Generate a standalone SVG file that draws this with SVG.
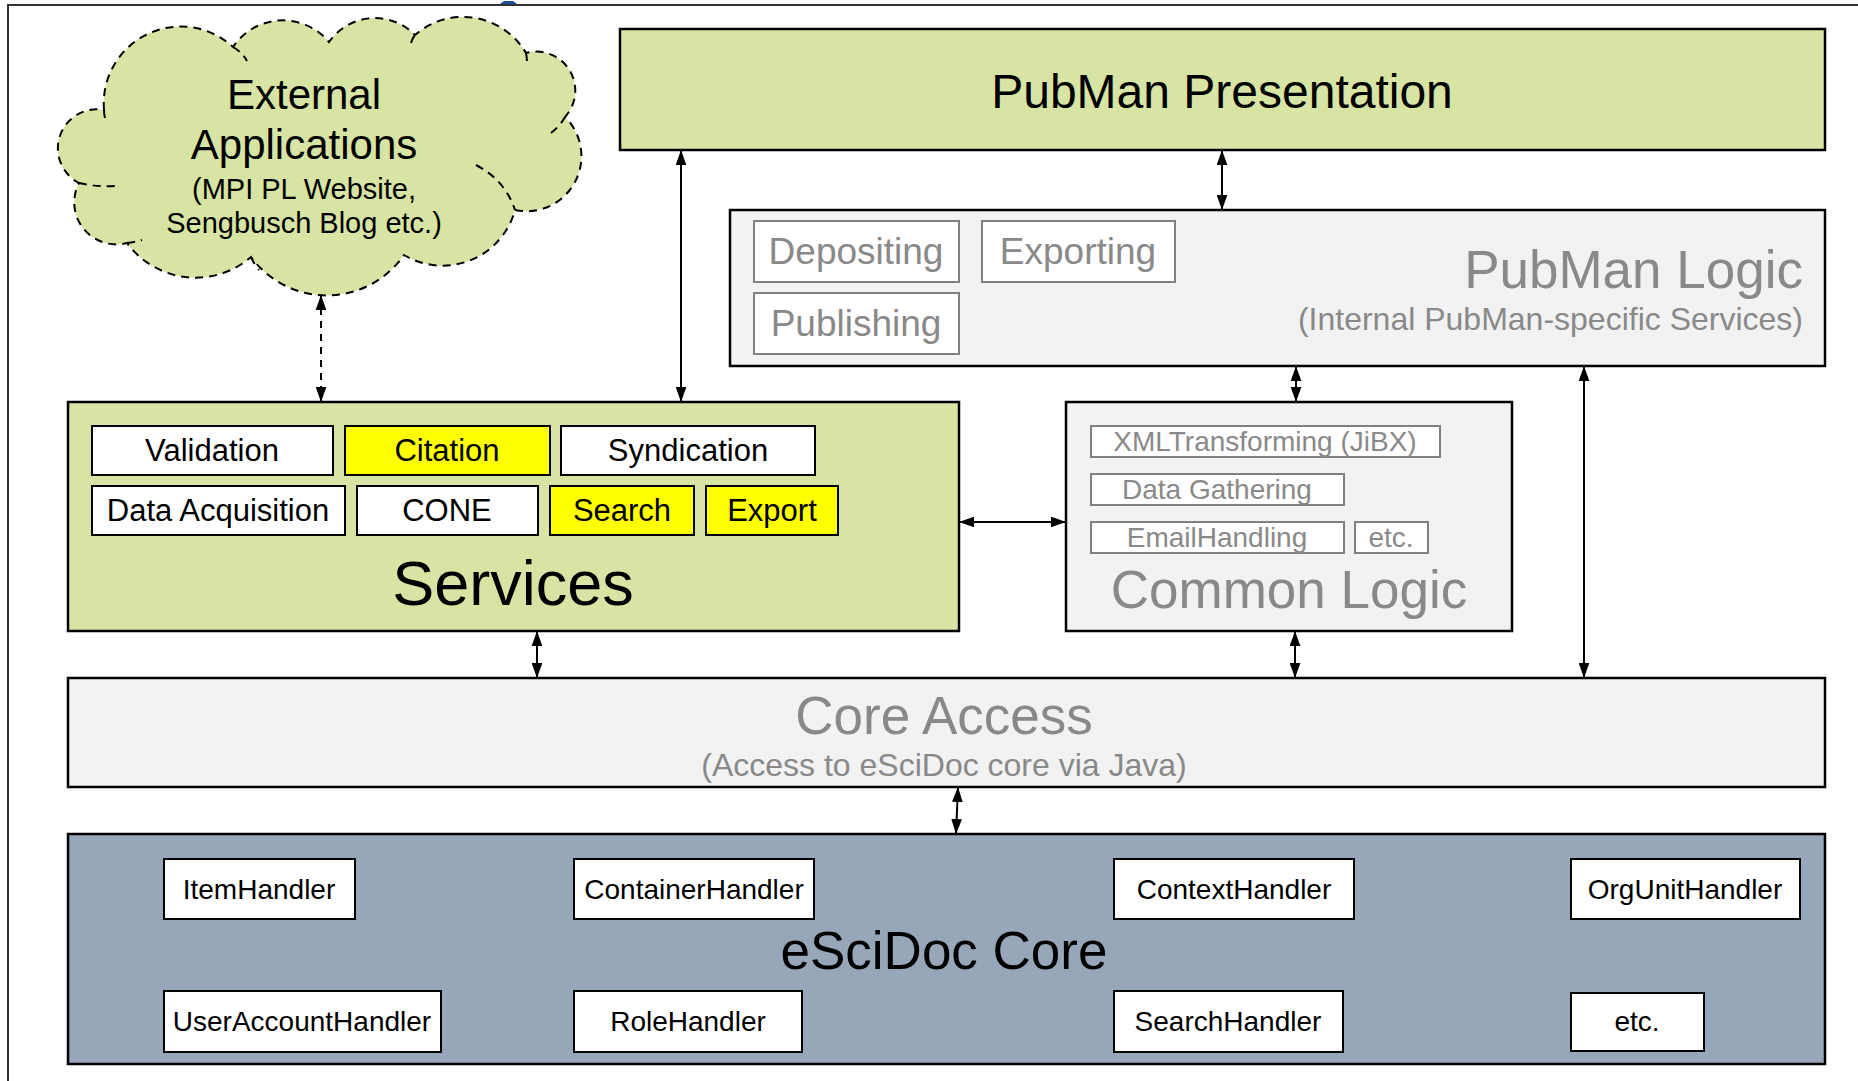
<svg xmlns="http://www.w3.org/2000/svg" width="1858" height="1081" viewBox="0 0 1858 1081">
<style>
text{font-family:"Liberation Sans",Arial,sans-serif;text-anchor:middle;}
.blk{fill:#000;}
.gry{fill:#898989;}
.green{fill:#d7e4a3;stroke:#000;stroke-width:2.5;}
.light{fill:#f2f2f2;stroke:#000;stroke-width:2.5;}
.core{fill:#97a6b8;stroke:#000;stroke-width:2.5;}
.wb{fill:#fff;stroke:#000;stroke-width:2;}
.yb{fill:#ffff00;stroke:#000;stroke-width:2;}
.gb{fill:#fff;stroke:#808080;stroke-width:2;}
.conn{stroke:#000;stroke-width:2;fill:none;marker-start:url(#ah);marker-end:url(#ah);}
.dash{stroke-dasharray:7,6;}
.cloud{fill:#d7e4a3;stroke:#000;stroke-width:2;stroke-dasharray:8,6;}
.cin{fill:none;stroke:#000;stroke-width:2;stroke-dasharray:8,6;}
</style>
<defs>
<marker id="ah" viewBox="0 0 14 10" refX="14" refY="5" markerWidth="15" markerHeight="11" markerUnits="userSpaceOnUse" orient="auto-start-reverse">
<path d="M0,0 L14,5 L0,10 z" fill="#000"/>
</marker>
</defs>
<rect x="0" y="0" width="1858" height="1081" fill="#fff"/>
<rect x="8" y="5" width="1870" height="1100" fill="none" stroke="#333" stroke-width="2"/>
<path d="M500,4 L504,1 L513,1 L517,4 z" fill="#1f4e9a"/>

<g id="external-applications">
<path class="cloud" d="M104,110 A77,77 0 0 1 233,47 A60,60 0 0 1 329,42 A56,56 0 0 1 415,35 A73,73 0 0 1 526,53 A39,39 0 0 1 565,117 A55,55 0 0 1 515,210 A75,75 0 0 1 404,255 A94,94 0 0 1 251,257 A85,85 0 0 1 127,243 A42,42 0 0 1 79,183 A39,39 0 0 1 104,110 z"/>
<path class="cin" d="M104,110 Q104,116 106,121"/>
<path class="cin" d="M79,183 Q96,187 115,186"/>
<path class="cin" d="M127,243 Q135,242 142,240"/>
<path class="cin" d="M251,257 Q254,264 259,270"/>
<path class="cin" d="M476,165 Q505,180 515,210"/>
<path class="cin" d="M551,133 Q560,126 565,117"/>
<path class="cin" d="M526,53 Q527,58 527,63"/>
<path class="cin" d="M411,43 Q412,39 415,35"/>
<path class="cin" d="M233,47 Q242,52 247,61"/>
<text class="blk" x="304" y="109" font-size="42">External</text>
<text class="blk" x="304" y="159" font-size="42">Applications</text>
<text class="blk" x="304" y="199" font-size="29">(MPI PL Website,</text>
<text class="blk" x="304" y="233" font-size="29">Sengbusch Blog etc.)</text>
</g>

<g id="pubman-presentation">
<rect class="green" x="620" y="29" width="1205" height="121"/>
<text class="blk" x="1222" y="108" font-size="48">PubMan Presentation</text>
</g>

<g id="pubman-logic">
<rect class="light" x="730" y="210" width="1095" height="156"/>
<rect class="gb" x="754" y="221" width="205" height="61"/>
<text class="gry" x="856" y="264" font-size="37">Depositing</text>
<rect class="gb" x="982" y="221" width="193" height="61"/>
<text class="gry" x="1078" y="264" font-size="37">Exporting</text>
<rect class="gb" x="754" y="293" width="205" height="61"/>
<text class="gry" x="856" y="336" font-size="37">Publishing</text>
<text class="gry" x="1803" y="288" font-size="53" style="text-anchor:end">PubMan Logic</text>
<text class="gry" x="1803" y="330" font-size="32" style="text-anchor:end">(Internal PubMan-specific Services)</text>
</g>

<g id="services">
<rect class="green" x="68" y="402" width="891" height="229"/>
<rect class="wb" x="92" y="426" width="241" height="49"/>
<text class="blk" x="212" y="461" font-size="31">Validation</text>
<rect class="yb" x="345" y="426" width="205" height="49"/>
<text class="blk" x="447" y="461" font-size="31">Citation</text>
<rect class="wb" x="561" y="426" width="254" height="49"/>
<text class="blk" x="688" y="461" font-size="31">Syndication</text>
<rect class="wb" x="92" y="486" width="253" height="49"/>
<text class="blk" x="218" y="521" font-size="31">Data Acquisition</text>
<rect class="wb" x="357" y="486" width="181" height="49"/>
<text class="blk" x="447" y="521" font-size="31">CONE</text>
<rect class="yb" x="550" y="486" width="144" height="49"/>
<text class="blk" x="622" y="521" font-size="31">Search</text>
<rect class="yb" x="706" y="486" width="132" height="49"/>
<text class="blk" x="772" y="521" font-size="31">Export</text>
<text class="blk" x="513" y="605" font-size="63">Services</text>
</g>

<g id="common-logic">
<rect class="light" x="1066" y="402" width="446" height="229"/>
<rect class="gb" x="1091" y="426" width="349" height="31"/>
<text class="gry" x="1265" y="451" font-size="28">XMLTransforming (JiBX)</text>
<rect class="gb" x="1091" y="474" width="253" height="31"/>
<text class="gry" x="1217" y="499" font-size="28">Data Gathering</text>
<rect class="gb" x="1091" y="522" width="253" height="31"/>
<text class="gry" x="1217" y="547" font-size="28">EmailHandling</text>
<rect class="gb" x="1355" y="522" width="73" height="31"/>
<text class="gry" x="1391" y="547" font-size="28">etc.</text>
<text class="gry" x="1289" y="608" font-size="53">Common Logic</text>
</g>

<g id="core-access">
<rect class="light" x="68" y="678" width="1757" height="109"/>
<text class="gry" x="944" y="734" font-size="53">Core Access</text>
<text class="gry" x="944" y="776" font-size="32">(Access to eSciDoc core via Java)</text>
</g>

<g id="escidoc-core">
<rect class="core" x="68" y="834" width="1757" height="230"/>
<rect class="wb" x="164" y="859" width="191" height="60"/>
<text class="blk" x="259" y="899" font-size="28">ItemHandler</text>
<rect class="wb" x="574" y="859" width="240" height="60"/>
<text class="blk" x="694" y="899" font-size="28">ContainerHandler</text>
<rect class="wb" x="1114" y="859" width="240" height="60"/>
<text class="blk" x="1234" y="899" font-size="28">ContextHandler</text>
<rect class="wb" x="1571" y="859" width="229" height="60"/>
<text class="blk" x="1685" y="899" font-size="28">OrgUnitHandler</text>
<text class="blk" x="944" y="969" font-size="53">eSciDoc Core</text>
<rect class="wb" x="164" y="991" width="277" height="61"/>
<text class="blk" x="302" y="1031" font-size="28">UserAccountHandler</text>
<rect class="wb" x="574" y="991" width="228" height="61"/>
<text class="blk" x="688" y="1031" font-size="28">RoleHandler</text>
<rect class="wb" x="1114" y="991" width="229" height="61"/>
<text class="blk" x="1228" y="1031" font-size="28">SearchHandler</text>
<rect class="wb" x="1571" y="993" width="133" height="58"/>
<text class="blk" x="1637" y="1031" font-size="28">etc.</text>
</g>

<g id="connectors">
<line class="conn dash" x1="321" y1="295" x2="321" y2="402"/>
<line class="conn" x1="681" y1="150" x2="681" y2="402"/>
<line class="conn" x1="1222" y1="150" x2="1222" y2="210"/>
<line class="conn" x1="1296" y1="366" x2="1296" y2="402"/>
<line class="conn" x1="1584" y1="366" x2="1584" y2="678"/>
<line class="conn" x1="959" y1="522" x2="1066" y2="522"/>
<line class="conn" x1="537" y1="631" x2="537" y2="678"/>
<line class="conn" x1="1295" y1="631" x2="1295" y2="678"/>
<line class="conn" x1="958" y1="787" x2="956" y2="834"/>
</g>
</svg>
